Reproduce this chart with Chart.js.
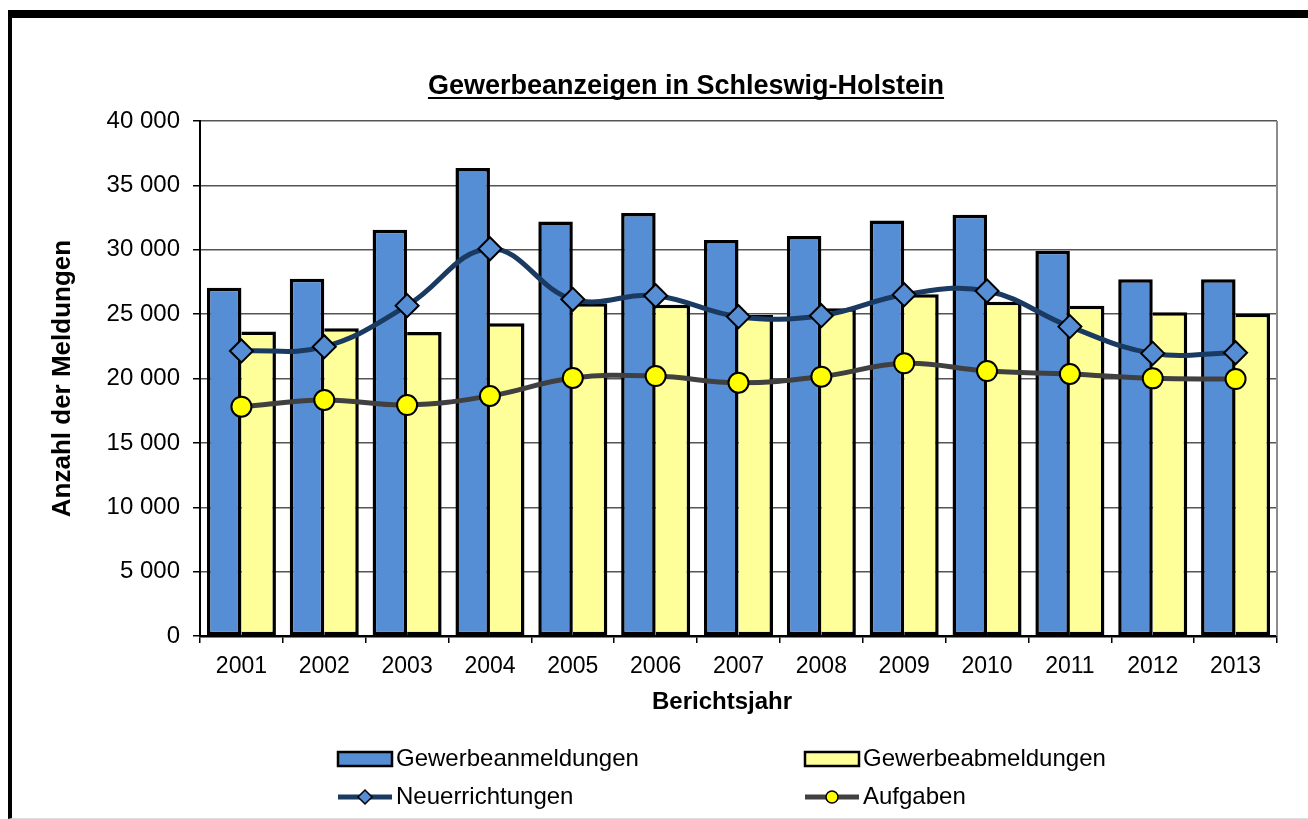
<!DOCTYPE html>
<html>
<head>
<meta charset="utf-8">
<title>Gewerbeanzeigen in Schleswig-Holstein</title>
<script src="https://cdn.jsdelivr.net/npm/chart.js@4.4.1/dist/chart.umd.min.js"></script>
<style>
    html, body { margin: 0; padding: 0; background: #fff; }
    #wrap { position: relative; width: 1308px; height: 819px; overflow: hidden; }
    #chart { position: absolute; left: 0; top: 0; }
    #frame {
        position: absolute; left: 8px; top: 10px; right: -20px; bottom: 0;
        border-top: 8px solid #000; border-left: 4px solid #000; border-bottom: 1px solid #ddd;
        pointer-events: none;
    }
</style>
</head>
<body>
<div id="wrap">
    <canvas id="chart" width="1308" height="819"></canvas>
    <div id="frame"></div>
</div>
<script>
const YEARS = ["2001", "2002", "2003", "2004", "2005", "2006", "2007", "2008", "2009", "2010", "2011", "2012", "2013"];
const ANMELDUNGEN = [27050, 27750, 31550, 36350, 32200, 32850, 30750, 31070, 32270, 32720, 29930, 27700, 27700];
const ABMELDUNGEN = [23650, 23900, 23620, 24300, 25850, 25720, 24930, 25450, 26550, 25970, 25660, 25150, 25020];
const NEUERRICHTUNGEN = [22140, 22470, 25660, 30080, 26150, 26430, 24800, 24880, 26510, 26800, 24030, 21950, 22000];
const AUFGABEN = [17810, 18330, 17940, 18640, 20040, 20190, 19670, 20140, 21180, 20580, 20350, 20010, 19960];
const Y_MAX = 40000;
const Y_STEP = 5000;

const BLUE = "#558ED5";
const YELLOW = "#FFFF99";
const NAVY = "#1B3A62";
const GREY = "#404040";
const FONT = "'Liberation Sans', Arial, sans-serif";

Chart.defaults.font.family = FONT;
Chart.defaults.color = "#000";

function formatThousands(v) {
    return String(v).replace(/\B(?=(\d{3})+(?!\d))/g, " ");
}

// chart title (underlined) and x axis title, placed like in the original
const freeTexts = {
    id: "freeTexts",
    afterDraw(chart, args, opts) {
        const ctx = chart.ctx;
        ctx.save();
        ctx.fillStyle = "#000";
        ctx.textAlign = "center";
        ctx.textBaseline = "alphabetic";
        opts.items.forEach(t => {
            ctx.font = "bold " + t.size + "px " + FONT;
            ctx.fillText(t.text, t.x, t.y);
            if (t.underline) {
                const w = ctx.measureText(t.text).width;
                ctx.fillRect(t.x - w / 2, t.y + 3, w, 2);
            }
        });
        ctx.restore();
    }
};

// grey right edge of the plot area
const plotFrame = {
    id: "plotFrame",
    beforeDatasetsDraw(chart) {
        const { ctx, chartArea } = chart;
        ctx.save();
        ctx.strokeStyle = "#8c8c8c";
        ctx.lineWidth = 2;
        ctx.beginPath();
        ctx.moveTo(chartArea.right, chartArea.top);
        ctx.lineTo(chartArea.right, chartArea.bottom);
        ctx.stroke();
        ctx.restore();
    }
};

// two-column legend below the axis title
const gridLegend = {
    id: "gridLegend",
    afterDraw(chart, args, opts) {
        const ctx = chart.ctx;
        ctx.save();
        ctx.font = opts.fontSize + "px " + FONT;
        ctx.textBaseline = "middle";
        chart.data.datasets.forEach((ds, i) => {
            const [x, y] = opts.slots[i];
            const w = opts.iconWidth;
            if (ds.type === "bar") {
                ctx.fillStyle = ds.backgroundColor;
                ctx.fillRect(x, y - 7, w, 14);
                ctx.strokeStyle = "#000";
                ctx.lineWidth = 2.5;
                ctx.strokeRect(x, y - 7, w, 14);
            } else {
                ctx.strokeStyle = ds.borderColor;
                ctx.lineWidth = 5;
                ctx.beginPath();
                ctx.moveTo(x, y);
                ctx.lineTo(x + w, y);
                ctx.stroke();
                const cx = x + w / 2;
                ctx.fillStyle = ds.pointBackgroundColor;
                ctx.strokeStyle = "#000";
                ctx.lineWidth = 1.5;
                ctx.beginPath();
                if (ds.pointStyle === "rectRot") {
                    ctx.moveTo(cx - 7, y);
                    ctx.lineTo(cx, y - 7);
                    ctx.lineTo(cx + 7, y);
                    ctx.lineTo(cx, y + 7);
                    ctx.closePath();
                } else {
                    ctx.arc(cx, y, 6, 0, Math.PI * 2);
                }
                ctx.fill();
                ctx.stroke();
            }
            ctx.fillStyle = "#000";
            ctx.fillText(ds.label, x + w + 4, y);
        });
        ctx.restore();
    }
};

new Chart(document.getElementById("chart"), {
    type: "bar",
    data: {
        labels: YEARS,
        datasets: [
            {
                type: "bar",
                label: "Gewerbeanmeldungen",
                data: ANMELDUNGEN,
                backgroundColor: BLUE,
                borderColor: "#000",
                borderWidth: 3.5,
                borderSkipped: false,
                inflateAmount: 0,
                categoryPercentage: 0.833,
                barPercentage: 1,
                order: 2
            },
            {
                type: "bar",
                label: "Gewerbeabmeldungen",
                data: ABMELDUNGEN,
                backgroundColor: YELLOW,
                borderColor: "#000",
                borderWidth: 3.5,
                borderSkipped: "left",
                inflateAmount: 0,
                categoryPercentage: 0.833,
                barPercentage: 1,
                order: 2
            },
            {
                type: "line",
                label: "Neuerrichtungen",
                data: NEUERRICHTUNGEN,
                borderColor: NAVY,
                borderWidth: 5,
                tension: 0.4,
                pointStyle: "rectRot",
                pointRadius: 11.5,
                pointBackgroundColor: BLUE,
                pointBorderColor: "#000",
                pointBorderWidth: 2,
                order: 1
            },
            {
                type: "line",
                label: "Aufgaben",
                data: AUFGABEN,
                borderColor: GREY,
                borderWidth: 5,
                tension: 0.4,
                pointStyle: "circle",
                pointRadius: 10,
                pointBackgroundColor: "#FFFF00",
                pointBorderColor: "#000",
                pointBorderWidth: 2,
                order: 1
            }
        ]
    },
    options: {
        responsive: false,
        animation: false,
        layout: { padding: { top: 121, right: 31, bottom: 93, left: 0 } },
        plugins: {
            legend: { display: false },
            tooltip: { enabled: false },
            title: { display: false },
            freeTexts: {
                items: [
                    { text: "Gewerbeanzeigen in Schleswig-Holstein", x: 686, y: 94, size: 27, underline: true },
                    { text: "Berichtsjahr", x: 722, y: 709, size: 24 }
                ]
            },
            gridLegend: {
                fontSize: 24,
                iconWidth: 54,
                slots: [[338, 759], [805, 759], [338, 797], [805, 797]]
            }
        },
        scales: {
            x: {
                grid: { offset: true, drawOnChartArea: false, drawTicks: true, tickLength: 7, color: "#000", lineWidth: 1.5 },
                border: { color: "#000", width: 2.5 },
                ticks: { font: { size: 23 }, color: "#000", padding: 10, maxRotation: 0 },
                afterFit(scale) { scale.height = 90; }
            },
            y: {
                min: 0,
                max: Y_MAX,
                ticks: { stepSize: Y_STEP, callback: formatThousands, font: { size: 24 }, color: "#000", padding: 13 },
                grid: { color: "#555", lineWidth: 1.5, tickLength: 7, tickColor: "#000" },
                border: { color: "#000", width: 2 },
                title: {
                    display: true,
                    text: "Anzahl der Meldungen",
                    font: { size: 26, weight: "bold" },
                    color: "#000",
                    padding: { top: 47, bottom: 0 }
                },
                afterFit(scale) { scale.width = 200; }
            }
        }
    },
    plugins: [plotFrame, freeTexts, gridLegend]
});
</script>
</body>
</html>
